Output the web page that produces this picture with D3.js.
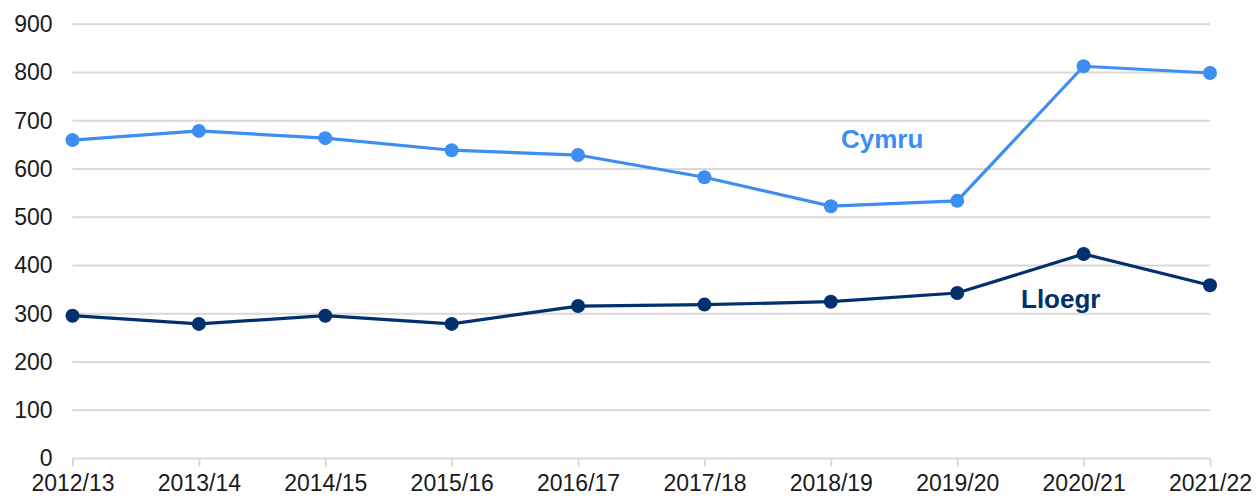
<!DOCTYPE html>
<html>
<head>
<meta charset="utf-8">
<script src="https://cdn.jsdelivr.net/npm/d3@7"></script>
<style>
  body { margin: 0; background: #fff; }
  svg text { font-family: "Liberation Sans", Arial, sans-serif; }
</style>
</head>
<body>
<script>
var years = ["2012/13", "2013/14", "2014/15", "2015/16", "2016/17", "2017/18", "2018/19", "2019/20", "2020/21", "2021/22"];
var cymru = [660, 679, 664, 639, 629, 583, 523, 534, 813, 799];
var lloegr = [296, 279, 296, 279, 316, 319, 325, 343, 424, 359];
var yTicks = [0, 100, 200, 300, 400, 500, 600, 700, 800, 900];

var width = 1256, height = 497;

var svg = d3.select("body")
  .append("svg")
  .attr("width", width)
  .attr("height", height);

var x = d3.scalePoint()
  .domain(years)
  .range([72.5, 1210]);

var y = d3.scaleLinear()
  .domain([0, 900])
  .range([458.5, 24.3]);

// gridlines
svg.append("g")
  .selectAll("line")
  .data(yTicks.slice(1))
  .enter()
  .append("line")
  .attr("x1", 72.5)
  .attr("x2", 1210)
  .attr("y1", d => y(d))
  .attr("y2", d => y(d))
  .style("stroke", "#d9d9d9")
  .style("stroke-width", 2);

// y axis labels
var yAxis = svg.append("g")
  .attr("transform", "translate(72.5,0)")
  .call(d3.axisLeft(y).tickValues(yTicks).tickSize(0).tickPadding(20));
yAxis.select(".domain").remove();
yAxis.selectAll("text")
  .style("font-size", "23px")
  .style("fill", "#1a1a1a");

// x axis
var xAxis = svg.append("g")
  .attr("transform", "translate(0," + y(0) + ")")
  .call(d3.axisBottom(x).tickSize(8).tickPadding(8));
xAxis.select(".domain")
  .attr("d", "M72.5,0H1210")
  .style("stroke", "#d9d9d9")
  .style("stroke-width", 2);
xAxis.selectAll(".tick line")
  .style("stroke", "#d9d9d9")
  .style("stroke-width", 2);
xAxis.selectAll("text")
  .style("font-size", "23px")
  .style("fill", "#1a1a1a");

var line = d3.line()
  .x((d, i) => x(years[i]))
  .y(d => y(d));

var series = [
  { name: "Cymru", values: cymru, color: "#3d8ef2", lx: 841, ly: 148 },
  { name: "Lloegr", values: lloegr, color: "#00306e", lx: 1021, ly: 308 }
];

series.forEach(function(s) {
  svg.append("path")
    .datum(s.values)
    .attr("d", line)
    .style("fill", "none")
    .style("stroke", s.color)
    .style("stroke-width", 3.2);

  svg.append("g")
    .selectAll("circle")
    .data(s.values)
    .enter()
    .append("circle")
    .attr("cx", (d, i) => x(years[i]))
    .attr("cy", d => y(d))
    .attr("r", 7)
    .style("fill", s.color);

  svg.append("text")
    .attr("x", s.lx)
    .attr("y", s.ly)
    .style("font-size", "26px")
    .style("font-weight", "bold")
    .style("fill", s.color)
    .text(s.name);
});
</script>
</body>
</html>
